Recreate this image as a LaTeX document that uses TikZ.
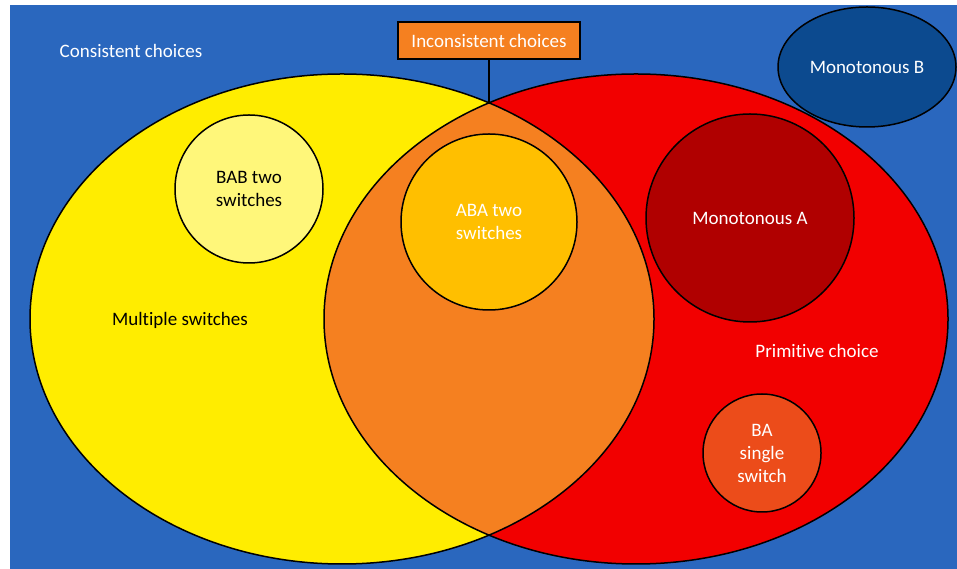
\documentclass[tikz,border=0pt]{standalone}
\usepackage{fontspec}
\setmainfont[Ligatures=NoCommon]{Carlito}
\usetikzlibrary{shapes.geometric}
\definecolor{bgblue}{RGB}{42,103,190}
\definecolor{yel}{RGB}{255,237,0}
\definecolor{redc}{RGB}{242,0,0}
\definecolor{orc}{RGB}{245,128,32}
\definecolor{paley}{RGB}{255,247,122}
\definecolor{gold}{RGB}{255,191,0}
\definecolor{darkr}{RGB}{176,0,0}
\definecolor{baor}{RGB}{236,76,26}
\definecolor{darkb}{RGB}{12,74,143}
\tikzset{
  every node/.style={font=\fontsize{19}{23}\selectfont},
  outl/.style={draw=black, line width=1.5pt},
  circ/.style={outl, circle, inner sep=0pt, align=center},
  lbl/.style={inner sep=0pt, align=center}
}
\begin{document}
\begin{tikzpicture}[x=1pt,y=1pt]
\useasboundingbox (0,0) rectangle (957,569);
\fill[white] (0,0) rectangle (957,569);
\fill[bgblue] (10,0) rectangle (957,564);
% big ellipses
\node[ellipse, fill=yel, minimum width=624pt, minimum height=490pt, inner sep=0pt] (left) at (342,250) {};
\node[ellipse, fill=redc, minimum width=624pt, minimum height=490pt, inner sep=0pt] (right) at (636,250) {};
\begin{scope}
  \clip (342,250) ellipse (312pt and 245pt);
  \fill[orc] (636,250) ellipse (312pt and 245pt);
\end{scope}
\draw[line width=1.5pt] (342,250) ellipse (312pt and 245pt);
\draw[line width=1.5pt] (636,250) ellipse (312pt and 245pt);
\coordinate (top) at (489,466);
% labels
\node[lbl, text=white] (cons) at (131,518) {Consistent choices};
\node[outl, fill=orc, text=white, minimum width=182pt, minimum height=37pt, inner sep=0pt] (inc) at (489,528.5) {Inconsistent choices};
\draw[line width=1.5pt] (inc.south) -- (top);
\node[outl, ellipse, fill=darkb, text=white, minimum width=178pt, minimum height=120pt, inner sep=0pt] (monob) at (867,502) {Monotonous B};
\node[circ, fill=paley, text=black, minimum size=148pt] (bab) at (249,380) {BAB two\\switches};
\node[circ, fill=gold, text=white, minimum size=176pt] (aba) at (489,347) {ABA two\\switches};
\node[circ, fill=darkr, text=white, minimum size=208pt] (monoa) at (750,351) {Monotonous A};
\node[circ, fill=baor, text=white, minimum size=118pt] (ba) at (762,116) {BA\\single\\switch};
\node[lbl, text=black] (mult) at (180,249) {Multiple switches};
\node[lbl, text=white] (prim) at (817,218) {Primitive choice};
\end{tikzpicture}
\end{document}
